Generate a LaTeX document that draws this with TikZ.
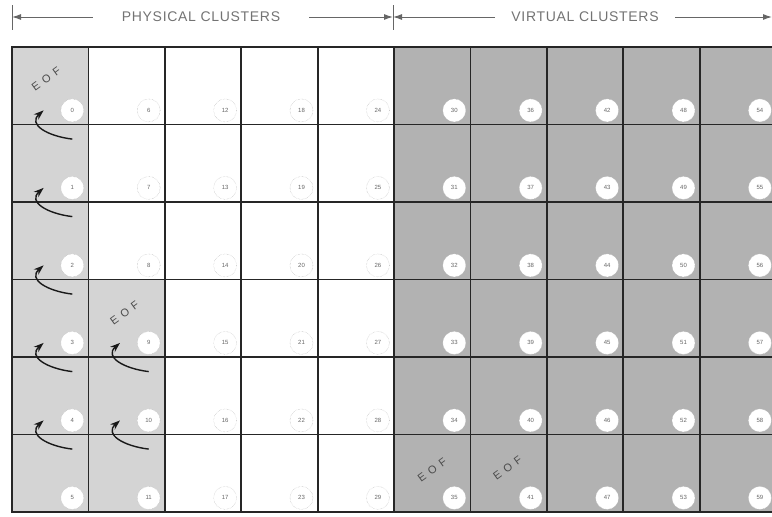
\documentclass[tikz,border=0pt]{standalone}
\usepackage{fontspec}
\setmainfont{Liberation Sans}
\usepackage{xcolor}
\usepackage{tikz}
\usetikzlibrary{arrows.meta,positioning,calc}

\colorlet{physfill}{black!17}
\colorlet{virtfill}{black!30}

\begin{document}
\begin{tikzpicture}[x=1pt, y=1pt,
  cell/.style={rectangle, draw=black!85, line width=1.8pt, minimum width=76.4pt, minimum height=77.5pt, inner sep=0pt},
  num/.style={circle, fill=white, draw=black!30, densely dotted, minimum size=23pt, inner sep=0pt, font=\fontsize{6}{6}\selectfont, text=black!60},
  eof/.style={rotate=36, font=\fontsize{11}{11}\selectfont\addfontfeatures{LetterSpace=45}, text=black!70, inner sep=0pt},
  hdr/.style={font=\fontsize{14}{14}\selectfont\addfontfeatures{LetterSpace=5}, text=black!55, inner ysep=0pt},
  dim/.style={-{Latex[length=9pt,width=6pt]}, black!60, line width=1pt},
  tick/.style={black!60, line width=0.8pt},
  chain/.style={-{Stealth[length=10pt,width=7pt]}, black!90, line width=1.4pt}
]
  \useasboundingbox (0,0) rectangle (772,-517);

  % header
  \coordinate (PL) at (12,-17);
  \coordinate (PM) at (393,-17);
  \coordinate (PR) at (772,-17);
  \node[hdr, inner xsep=29pt] (Phys) at (201,-17) {PHYSICAL CLUSTERS};
  \node[hdr, inner xsep=16pt] (Virt) at (585,-17) {VIRTUAL CLUSTERS};
  \draw[dim] (Phys) -- (PL);
  \draw[dim] (Phys) -- (PM);
  \draw[dim] (Virt) -- (PM);
  \draw[dim] (Virt) -- (PR);
  \draw[tick] ([yshift=12pt]PL) -- ([yshift=-13pt]PL);
  \draw[tick] ([yshift=12pt]PM) -- ([yshift=-13pt]PM);

  % clusters
  \foreach \i in {1,...,10}
    \foreach \j in {1,...,6} {
      \def\cellfill{white}
      \ifnum\i=1 \def\cellfill{physfill}\fi
      \ifnum\i=2 \ifnum\j>3 \def\cellfill{physfill}\fi\fi
      \ifnum\i>5 \def\cellfill{virtfill}\fi
      \node[cell, fill=\cellfill] (c-\i-\j) at ({12+76.4*(\i-0.5)}, {-47-77.5*(\j-0.5)}) {};
    }
  \foreach \i in {1,...,10}
    \foreach \j in {1,...,6} {
      \pgfmathtruncatemacro\k{6*(\i-1)+\j-1}
      \node[num] (n-\i-\j) at ([shift={(-17,15)}]c-\i-\j.south east) {\k};
    }

  % end of file marks
  \node[eof] (Eof1) at ([shift={(35,-33)}]c-1-1.north west) {EOF};
  \node[eof] (Eof2) at ([shift={(37,-34)}]c-2-4.north west) {EOF};
  \node[eof] (Eof3) at ([shift={(39,-36)}]c-6-6.north west) {EOF};
  \node[eof] (Eof4) at ([shift={(38,-34)}]c-7-6.north west) {EOF};

  % chain arrows
  \foreach \i/\j in {1/1,1/2,1/3,1/4,1/5,2/4,2/5} {
    \coordinate[left=17pt of n-\i-\j] (h-\i-\j);
    \coordinate[below=17pt of n-\i-\j] (t-\i-\j);
    \draw[chain] (t-\i-\j) .. controls +(-25,3) and +(-16,-14) .. (h-\i-\j);
  }
\end{tikzpicture}
\end{document}
